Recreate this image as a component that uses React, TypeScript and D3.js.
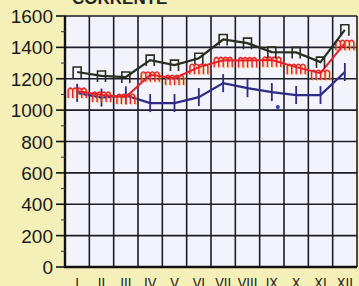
import * as d3 from "d3";

const months = ["I", "II", "III", "IV", "V", "VI", "VII", "VIII", "IX", "X", "XI", "XII"];
const blackSeries = [1243, 1218, 1211, 1319, 1287, 1331, 1450, 1427, 1370, 1368, 1306, 1512];
const redSeries = [1122, 1096, 1083, 1225, 1204, 1274, 1318, 1316, 1320, 1274, 1236, 1427];
const blueSeries = [1110, 1080, 1094, 1045, 1045, 1083, 1172, 1140, 1115, 1096, 1096, 1243];
const blueExtra = { month: "IX", value: 1020 };
const yTicks = [0, 200, 400, 600, 800, 1000, 1200, 1400, 1600];
const yMinor = [100, 300, 500, 700, 900, 1100, 1300, 1500];

const W = 359;
const H = 286;

export default function App() {
  const x = d3.scaleBand<string>().domain(months).range([65, 357]);
  const y = d3.scaleLinear().domain([0, 1600]).range([267, 16]);
  const cx = (m: string) => (x(m) ?? 0) + x.bandwidth() / 2;

  const line = d3
    .line<number>()
    .x((_, i) => cx(months[i]))
    .y((d) => y(d));

  // "m" comb marker for the red series
  const combPath = (px: number, py: number) => {
    const n = 4;
    const w = 18;
    const step = w / n;
    let p = `M${px - w / 2},${py + 7}`;
    for (let k = 0; k < n; k++) {
      const x0 = px - w / 2 + k * step;
      p += ` L${x0},${py - 1} Q${x0 + step / 2},${py - 5} ${x0 + step},${py - 1} L${x0 + step},${py + 7} M${x0 + step},${py - 1}`;
    }
    return p;
  };

  const fontNum = "'Liberation Sans', Arial, sans-serif";
  const fontNarrow = "'Liberation Sans Narrow', 'Arial Narrow', 'DejaVu Sans Condensed', sans-serif";

  return (
    <svg
      width={W}
      height={H}
      style={{ position: "absolute", left: 0, top: 0, background: "#f4f0b8" }}
    >
      <rect x={0} y={0} width={W} height={H} fill="#f4f0b8" />
      <text x={72} y={4} fontFamily={fontNum} fontWeight="bold" fontSize={17} fill="#222">
        CORRENTE
      </text>

      {/* plot area */}
      <rect x={65} y={16} width={292} height={251} fill="#f3f4fb" />

      {/* horizontal grid */}
      {yTicks.map((t) => (
        <line key={"h" + t} x1={65} x2={357} y1={y(t)} y2={y(t)} stroke="#1c1c2a" strokeWidth={1.6} />
      ))}
      {/* vertical grid */}
      {months.map((m) => (
        <line key={"v" + m} x1={x(m)} x2={x(m)} y1={16} y2={267} stroke="#1c1c2a" strokeWidth={1.6} />
      ))}
      <line x1={357} x2={357} y1={16} y2={267} stroke="#1c1c2a" strokeWidth={1.6} />

      {/* axes */}
      <line x1={65} x2={65} y1={16} y2={268} stroke="#111" strokeWidth={2.4} />
      <line x1={64} x2={357} y1={267} y2={267} stroke="#111" strokeWidth={2.6} />
      {yTicks.map((t) => (
        <line key={"t" + t} x1={56} x2={65} y1={y(t)} y2={y(t)} stroke="#111" strokeWidth={1.6} />
      ))}
      {yMinor.map((t) => (
        <line key={"mt" + t} x1={61} x2={65} y1={y(t)} y2={y(t)} stroke="#333" strokeWidth={1} />
      ))}
      {yTicks.map((t) => (
        <text
          key={"l" + t}
          x={53}
          y={y(t) + 7}
          textAnchor="end"
          fontFamily={fontNum}
          fontSize={19}
          fill="#1a1a1a"
        >
          {t}
        </text>
      ))}
      {months.map((m) => (
        <text
          key={"xl" + m}
          x={cx(m)}
          y={288}
          textAnchor="middle"
          fontFamily={fontNarrow}
          fontSize={14}
          fill="#1a1a1a"
        >
          {m}
        </text>
      ))}

      {/* blue series */}
      <path d={line(blueSeries) ?? ""} fill="none" stroke="#2e2a86" strokeWidth={2.2} />
      {blueSeries.map((v, i) => (
        <line
          key={"bm" + i}
          x1={cx(months[i])}
          x2={cx(months[i])}
          y1={y(v) - 9}
          y2={y(v) + 9}
          stroke="#2e2a86"
          strokeWidth={1.8}
        />
      ))}
      <circle cx={cx(blueExtra.month) + 6} cy={y(blueExtra.value)} r={2} fill="#3040c0" />

      {/* red series */}
      {redSeries.map((v, i) => (
        <path
          key={"rh" + i}
          d={combPath(cx(months[i]) + 1, y(v) + 1)}
          fill="none"
          stroke="#f5b030"
          strokeWidth={2}
          opacity={0.5}
        />
      ))}
      <path d={line(redSeries) ?? ""} fill="none" stroke="#e8202a" strokeWidth={2} />
      {redSeries.map((v, i) => (
        <path
          key={"rm" + i}
          d={combPath(cx(months[i]), y(v))}
          fill="none"
          stroke="#e8202a"
          strokeWidth={1.4}
        />
      ))}

      {/* black series */}
      <path d={line(blackSeries) ?? ""} fill="none" stroke="#27301e" strokeWidth={2.2} />
      {blackSeries.map((v, i) => {
        const px = cx(months[i]);
        const py = y(v);
        return (
          <path
            key={"km" + i}
            d={`M${px - 4},${py + 6} L${px - 4},${py - 5} L${px + 4},${py - 5} L${px + 4},${py + 6}`}
            fill="none"
            stroke="#27301e"
            strokeWidth={1.6}
          />
        );
      })}
    </svg>
  );
}
